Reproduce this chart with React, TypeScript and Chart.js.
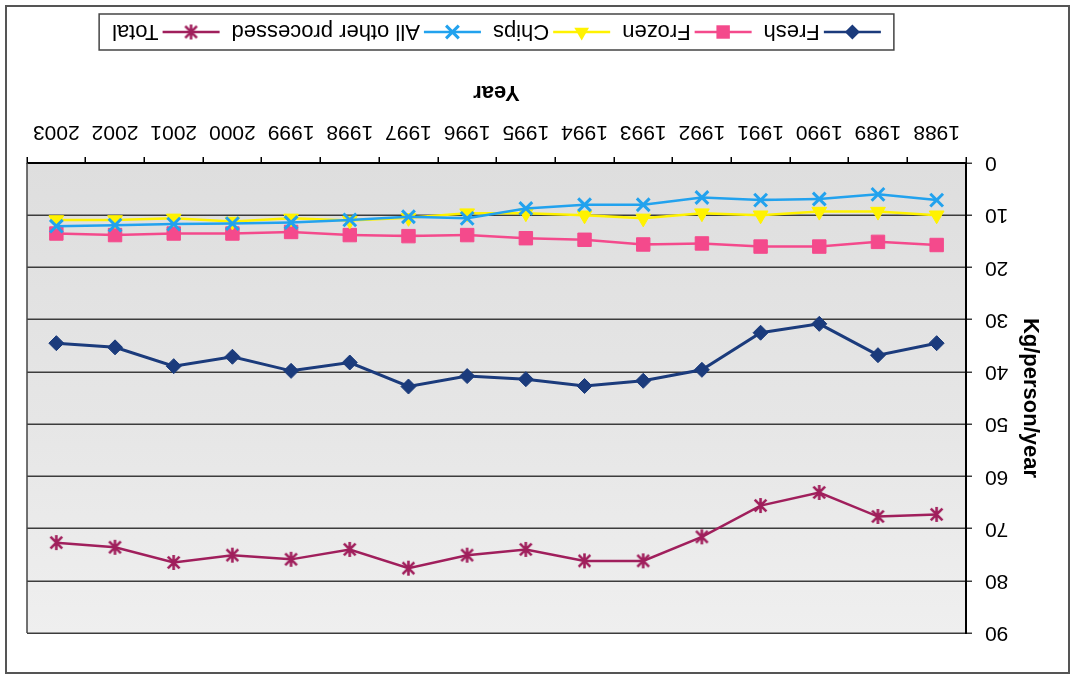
import React, { useEffect, useRef } from 'react';
import { Chart, registerables } from 'chart.js';

Chart.register(...registerables);

// ---------------- data ----------------
const YEARS = ['1988', '1989', '1990', '1991', '1992', '1993', '1994', '1995', '1996', '1997', '1998', '1999', '2000', '2001', '2002', '2003'];
const FRESH = [34.5, 36.8, 30.8, 32.5, 39.6, 41.7, 42.7, 41.4, 40.8, 42.8, 38.2, 39.8, 37.1, 38.9, 35.3, 34.5];
const FROZEN = [15.7, 15.1, 16.0, 16.0, 15.4, 15.6, 14.7, 14.4, 13.8, 14.0, 13.8, 13.2, 13.5, 13.5, 13.8, 13.5];
const CHIPS = [10.0, 9.3, 9.3, 10.0, 9.6, 10.6, 10.0, 9.6, 9.6, 10.5, 11.0, 10.6, 11.2, 10.6, 10.9, 10.9];
const OTHER = [7.1, 6.0, 6.9, 7.1, 6.6, 8.0, 8.0, 8.7, 10.6, 10.3, 10.9, 11.4, 11.6, 11.7, 11.9, 12.1];
const TOTAL = [67.3, 67.7, 63.1, 65.6, 71.6, 76.2, 76.2, 74.0, 75.1, 77.6, 74.0, 75.9, 75.1, 76.5, 73.6, 72.7];
const SERIES_NAMES = ['Fresh', 'Frozen', 'Chips', 'All other processed', 'Total'];
const Y_MIN = 0;
const Y_MAX = 90;
const Y_STEP = 10;
const X_TITLE = 'Year';
const Y_TITLE = 'Kg/person/year';

// ---------------- styles ----------------
const FONT = '"Liberation Sans", Arial, Helvetica, sans-serif';
const NAVY = '#1b3b7c';
const PINK = '#f44a8c';
const YELLOW = '#fff200';
const CYAN = '#22a2ee';
const PURPLE = '#a01f5c';
const COLORS = [NAVY, PINK, YELLOW, CYAN, PURPLE];
const STYLES = ['rectRot', 'rect', 'triangle', 'crossRot', 'star6'];
const RADII = [7.5, 9.5, 8.5, 9, 8];
const LINE_W = [3, 2.5, 2.5, 2.5, 2.5];

function makeAsterisk(color: string, size: number, lw: number) {
  const c = document.createElement('canvas');
  c.width = size;
  c.height = size;
  const g = c.getContext('2d')!;
  g.strokeStyle = color;
  g.lineWidth = lw;
  const m = size / 2;
  const r = size / 2 - 1;
  const d = r * 0.78;
  g.beginPath();
  g.moveTo(m, m - r);
  g.lineTo(m, m + r);
  g.moveTo(m - d, m - d);
  g.lineTo(m + d, m + d);
  g.moveTo(m + d, m - d);
  g.lineTo(m - d, m + d);
  g.stroke();
  return c;
}

function drawMarker(ctx: CanvasRenderingContext2D, style: string, x: number, y: number, r: number, color: string, star: HTMLCanvasElement) {
  ctx.save();
  ctx.fillStyle = color;
  ctx.strokeStyle = color;
  ctx.beginPath();
  if (style === 'rectRot') {
    ctx.moveTo(x - r, y);
    ctx.lineTo(x, y - r);
    ctx.lineTo(x + r, y);
    ctx.lineTo(x, y + r);
    ctx.closePath();
    ctx.fill();
  } else if (style === 'rect') {
    const s = r * Math.SQRT1_2;
    ctx.fillRect(x - s, y - s, 2 * s, 2 * s);
  } else if (style === 'triangle') {
    ctx.moveTo(x, y - r);
    ctx.lineTo(x + 0.866 * r, y + 0.5 * r);
    ctx.lineTo(x - 0.866 * r, y + 0.5 * r);
    ctx.closePath();
    ctx.fill();
  } else if (style === 'crossRot') {
    const d = r * Math.SQRT1_2;
    ctx.lineWidth = 3;
    ctx.moveTo(x - d, y - d);
    ctx.lineTo(x + d, y + d);
    ctx.moveTo(x + d, y - d);
    ctx.lineTo(x - d, y + d);
    ctx.stroke();
  } else {
    ctx.drawImage(star, x - star.width / 2, y - star.height / 2);
  }
  ctx.restore();
}

export default function App() {
  const ref = useRef<HTMLCanvasElement>(null);

  useEffect(() => {
    const canvas = ref.current;
    if (!canvas) return;
    const star = makeAsterisk(PURPLE, 17, 2.6);

    const bgPlugin = {
      id: 'bgPlugin',
      beforeDraw(chart: any) {
        const { ctx, chartArea: ca, width, height } = chart;
        ctx.save();
        ctx.fillStyle = '#ffffff';
        ctx.fillRect(0, 0, width, height);
        const grad = ctx.createLinearGradient(0, ca.top, 0, ca.bottom);
        grad.addColorStop(0, '#efefef');
        grad.addColorStop(0.45, '#e6e6e6');
        grad.addColorStop(1, '#dedede');
        ctx.fillStyle = grad;
        ctx.fillRect(ca.left, ca.top, ca.right - ca.left, ca.bottom - ca.top);
        ctx.restore();
      },
      beforeDatasetsDraw(chart: any) {
        const { ctx, chartArea: ca } = chart;
        ctx.save();
        ctx.strokeStyle = '#444';
        ctx.lineWidth = 1.5;
        ctx.beginPath();
        ctx.moveTo(ca.right, ca.top);
        ctx.lineTo(ca.right, ca.bottom);
        ctx.stroke();
        ctx.restore();
      },
      afterDraw(chart: any) {
        const { ctx, chartArea: ca } = chart;
        ctx.save();
        // outer frame
        ctx.strokeStyle = '#555';
        ctx.lineWidth = 2;
        ctx.strokeRect(2, 2, 1063, 667);

        // legend
        ctx.font = `22px ${FONT}`;
        const symW = 57;
        const gapSym = 4;
        const gapItem = 12;
        const widths = SERIES_NAMES.map((n) => ctx.measureText(n).width);
        let content = 0;
        widths.forEach((w, i) => {
          content += symW + gapSym + w + (i < widths.length - 1 ? gapItem : 0);
        });
        const boxW = content + 26;
        const cx = (ca.left + ca.right) / 2;
        const boxL = cx - boxW / 2;
        const boxTop = 625;
        const boxH = 36;
        const cy = boxTop + boxH / 2;
        ctx.strokeStyle = '#444';
        ctx.lineWidth = 1.5;
        ctx.strokeRect(boxL, boxTop, boxW, boxH);
        let x = cx - content / 2;
        SERIES_NAMES.forEach((name, i) => {
          ctx.strokeStyle = COLORS[i];
          ctx.lineWidth = 2.5;
          ctx.beginPath();
          ctx.moveTo(x, cy);
          ctx.lineTo(x + symW, cy);
          ctx.stroke();
          drawMarker(ctx, STYLES[i], x + symW / 2, cy, RADII[i], COLORS[i], star);
          ctx.fillStyle = '#000';
          ctx.textAlign = 'left';
          ctx.textBaseline = 'middle';
          ctx.fillText(name, x + symW + gapSym, cy + 1);
          x += symW + gapSym + widths[i] + gapItem;
        });
        ctx.restore();
      },
    };

    const series = [FRESH, FROZEN, CHIPS, OTHER, TOTAL];
    const datasets = series.map((vals, i) => ({
      label: SERIES_NAMES[i],
      data: vals,
      borderColor: COLORS[i],
      backgroundColor: COLORS[i],
      borderWidth: LINE_W[i],
      pointStyle: i === 4 ? star : STYLES[i],
      pointRadius: RADII[i],
      pointBorderWidth: i === 3 ? 3 : 1,
      pointBackgroundColor: COLORS[i],
      pointBorderColor: COLORS[i],
      fill: false,
      tension: 0,
      order: 4 - i,
    }));

    const chart = new Chart(canvas, {
      type: 'line',
      data: { labels: YEARS, datasets: datasets as any },
      options: {
        animation: false,
        responsive: false,
        devicePixelRatio: 1,
        layout: { padding: { top: 42, right: 27, left: 0, bottom: 0 } },
        plugins: { legend: { display: false }, tooltip: { enabled: false } },
        scales: {
          x: {
            type: 'category',
            offset: true,
            grid: { offset: true, drawOnChartArea: false, drawTicks: true, tickLength: 6, color: '#000', lineWidth: 1.5 },
            border: { display: true, color: '#000', width: 2 },
            ticks: { font: { family: FONT, size: 21 }, color: '#000', padding: 13, maxRotation: 0, autoSkip: false },
            title: {
              display: true,
              text: X_TITLE,
              color: '#000',
              font: { family: FONT, size: 22, weight: 'bold' },
              padding: { top: 0, bottom: 78.8 },
            },
            afterFit: (scale: any) => {
              scale.height = 163;
            },
          },
          y: {
            min: Y_MIN,
            max: Y_MAX,
            grid: { color: '#3c3c3c', lineWidth: 1.5, tickLength: 6, drawTicks: true },
            border: { display: true, color: '#000', width: 2 },
            ticks: { stepSize: Y_STEP, font: { family: FONT, size: 21 }, color: '#000', padding: 13 },
            title: {
              display: true,
              text: Y_TITLE,
              color: '#000',
              font: { family: FONT, size: 22, weight: 'bold' },
              padding: { top: 27.8, bottom: 0 },
            },
            afterFit: (scale: any) => {
              scale.width = 105;
            },
          },
        },
      } as any,
      plugins: [bgPlugin],
    });
    return () => chart.destroy();
  }, []);

  return (
    <div
      style={{
        position: 'fixed',
        left: 0,
        top: 0,
        width: 1071,
        height: 675,
        transform: 'rotate(180deg)',
        background: '#fff',
      }}
    >
      <canvas ref={ref} width={1071} height={675} style={{ display: 'block', width: 1071, height: 675 }} />
    </div>
  );
}
